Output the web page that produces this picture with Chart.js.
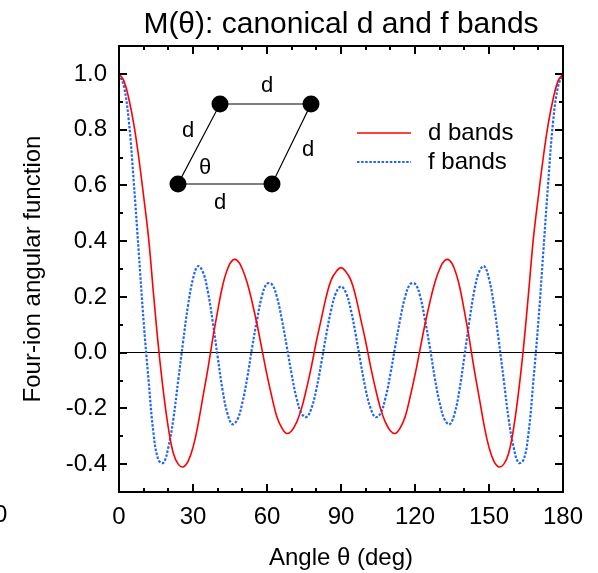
<!DOCTYPE html>
<html>
<head>
<meta charset="utf-8">
<script src="https://cdn.jsdelivr.net/npm/chart.js@4"></script>
<style>
  html, body { margin: 0; padding: 0; background: #fff; }
  #wrap { width: 598px; height: 573px; }
</style>
</head>
<body>
<div id="wrap"><canvas id="chart"></canvas></div>
<script>
// angle in degrees, read every 2 deg
var angles = [0,2,4,6,8,10,12,14,16,18,20,22,24,26,28,30,32,34,36,38,40,42,44,46,48,50,52,54,56,58,60,62,64,66,68,70,72,74,76,78,80,82,84,86,88,90,
  92,94,96,98,100,102,104,106,108,110,112,114,116,118,120,122,124,126,128,130,132,134,136,138,140,142,144,146,148,150,152,154,156,158,160,162,164,166,168,170,172,174,176,178,180];

var dBands = [1.00,0.975,0.91,0.82,0.70,0.56,0.41,0.21,0.02,-0.14,-0.27,-0.36,-0.40,-0.41,-0.39,-0.34,-0.26,-0.16,-0.06,0.05,0.15,0.24,0.30,0.331,0.33,0.30,0.25,0.18,0.10,0.01,-0.08,-0.16,-0.23,-0.27,-0.29,-0.28,-0.25,-0.20,-0.13,-0.05,0.04,0.12,0.20,0.26,0.29,0.305,
  0.29,0.26,0.20,0.12,0.04,-0.05,-0.13,-0.20,-0.25,-0.28,-0.29,-0.27,-0.23,-0.16,-0.08,0.01,0.10,0.18,0.25,0.30,0.33,0.331,0.30,0.24,0.15,0.05,-0.06,-0.16,-0.26,-0.34,-0.39,-0.41,-0.40,-0.36,-0.27,-0.14,0.02,0.21,0.41,0.56,0.70,0.82,0.91,0.975,1.00];

var fBands = [1.00,0.955,0.83,0.61,0.36,0.11,-0.10,-0.29,-0.385,-0.395,-0.34,-0.24,-0.10,0.04,0.17,0.265,0.31,0.29,0.22,0.11,-0.015,-0.135,-0.22,-0.257,-0.24,-0.18,-0.09,0.02,0.12,0.205,0.247,0.245,0.20,0.12,0.023,-0.078,-0.164,-0.218,-0.231,-0.20,-0.132,-0.038,0.063,0.153,0.215,0.237,
  0.215,0.153,0.063,-0.038,-0.132,-0.20,-0.231,-0.218,-0.164,-0.078,0.023,0.12,0.20,0.245,0.247,0.205,0.12,0.02,-0.09,-0.18,-0.24,-0.257,-0.22,-0.135,-0.015,0.11,0.22,0.29,0.31,0.265,0.17,0.04,-0.10,-0.24,-0.34,-0.395,-0.385,-0.29,-0.10,0.11,0.36,0.61,0.83,0.955,1.00];

var xTicks = [0, 30, 60, 90, 120, 150, 180];
var yTicks = [-0.4, -0.2, 0.0, 0.2, 0.4, 0.6, 0.8, 1.0];

var FONT = "'Liberation Sans', Arial, sans-serif";
var TITLE = "M(\u03b8): canonical d and f bands";

function pts(ys) {
  return angles.map(function (a, i) { return { x: a, y: ys[i] }; });
}

// title over the plot, frame, inward ticks, legend and the four-ion sketch
var extras = {
  id: "extras",
  afterDatasetsDraw: function (chart) {
    var ctx = chart.ctx;
    var a = chart.chartArea;
    var xs = chart.scales.x, ys = chart.scales.y;
    ctx.save();

    ctx.fillStyle = "#000";
    ctx.font = "30px " + FONT;
    ctx.textAlign = "center";
    ctx.textBaseline = "middle";
    ctx.fillText(TITLE, (a.left + a.right) / 2, 25);

    ctx.strokeStyle = "#000";
    ctx.lineWidth = 2;
    ctx.strokeRect(a.left, a.top, a.right - a.left, a.bottom - a.top);

    ctx.beginPath();
    for (var d = 0; d <= 180; d += 10) {
      var px = Math.round(xs.getPixelForValue(d));
      var len = d % 30 === 0 ? 8 : 4;
      ctx.moveTo(px, a.bottom); ctx.lineTo(px, a.bottom - len);
      ctx.moveTo(px, a.top); ctx.lineTo(px, a.top + len);
    }
    for (var k = -5; k <= 11; k++) {
      var py = Math.round(ys.getPixelForValue(k / 10));
      var l2 = k % 2 === 0 ? 8 : 4;
      ctx.moveTo(a.left, py); ctx.lineTo(a.left + l2, py);
      ctx.moveTo(a.right, py); ctx.lineTo(a.right - l2, py);
    }
    ctx.stroke();

    // legend
    var ds = chart.data.datasets;
    var rows = [133, 162];
    ctx.font = "24px " + FONT;
    ctx.textAlign = "left";
    ds.forEach(function (s, i) {
      ctx.beginPath();
      ctx.strokeStyle = s.borderColor;
      ctx.lineWidth = s.borderWidth;
      ctx.setLineDash(s.borderDash || []);
      ctx.moveTo(357, rows[i]); ctx.lineTo(411, rows[i]);
      ctx.stroke();
      ctx.setLineDash([]);
      ctx.fillStyle = "#000";
      ctx.fillText(s.label, 428, rows[i]);
    });

    // sketch
    ctx.strokeStyle = "#000";
    ctx.lineWidth = 1.2;
    ctx.beginPath();
    ctx.moveTo(178, 184); ctx.lineTo(272, 184); ctx.lineTo(311, 104); ctx.lineTo(220, 104); ctx.closePath();
    ctx.stroke();
    ctx.fillStyle = "#000";
    [[220, 104], [311, 104], [178, 184], [272, 184]].forEach(function (p) {
      ctx.beginPath(); ctx.arc(p[0], p[1], 8.5, 0, Math.PI * 2); ctx.fill();
    });
    ctx.font = "22px " + FONT;
    ctx.textAlign = "center";
    ctx.fillText("d", 267, 86);
    ctx.fillText("d", 188, 131);
    ctx.fillText("d", 308, 150);
    ctx.fillText("d", 220, 203);
    ctx.fillText("\u03b8", 205, 168);

    // clipped leftover label at the far left
    ctx.font = "24px " + FONT;
    ctx.textAlign = "left";
    ctx.fillText("0", -6, 515);
    ctx.restore();
  }
};

new Chart(document.getElementById("chart").getContext("2d"), {
  type: "line",
  data: {
    datasets: [
      {
        label: "d bands",
        data: pts(dBands),
        borderColor: "#ff0000",
        borderWidth: 1.6,
        pointRadius: 0,
        tension: 0.4,
        fill: false
      },
      {
        label: "f bands",
        data: pts(fBands),
        borderColor: "#2166f3",
        borderWidth: 2.2,
        borderDash: [2.5, 1.6],
        pointRadius: 0,
        tension: 0.4,
        fill: false
      }
    ]
  },
  options: {
    responsive: true,
    maintainAspectRatio: false,
    animation: false,
    layout: { padding: { left: 0, right: 35, top: 46, bottom: 0 } },
    plugins: {
      legend: { display: false },
      tooltip: { enabled: false },
      title: { display: false }
    },
    scales: {
      x: {
        type: "linear",
        min: 0,
        max: 180,
        afterFit: function (s) { s.height = 81; },
        border: { display: false },
        grid: { display: false, drawTicks: false },
        ticks: {
          stepSize: 30,
          autoSkip: false,
          maxRotation: 0,
          padding: 11,
          color: "#000",
          font: { family: FONT, size: 24 },
          callback: function (v) { return xTicks.indexOf(v) >= 0 ? String(v) : ""; }
        },
        title: {
          display: true,
          text: "Angle \u03b8 (deg)",
          color: "#000",
          font: { family: FONT, size: 24 },
          padding: { top: 0, bottom: 0 }
        }
      },
      y: {
        min: -0.5,
        max: 1.1,
        afterFit: function (s) { s.width = 119; },
        border: { display: false },
        grid: {
          drawTicks: false,
          lineWidth: 1,
          color: function (c) {
            return c.tick && Math.abs(c.tick.value) < 1e-9 ? "#000" : "rgba(0,0,0,0)";
          }
        },
        ticks: {
          stepSize: 0.1,
          autoSkip: false,
          padding: 12,
          color: "#000",
          font: { family: FONT, size: 24 },
          callback: function (v) {
            var hit = yTicks.filter(function (t) { return Math.abs(t - v) < 1e-6; });
            return hit.length ? hit[0].toFixed(1) : "";
          }
        },
        title: {
          display: true,
          text: "Four-ion angular function",
          color: "#000",
          font: { family: FONT, size: 24 },
          padding: { top: 19, bottom: 0 }
        }
      }
    }
  },
  plugins: [extras]
});
</script>
</body>
</html>
